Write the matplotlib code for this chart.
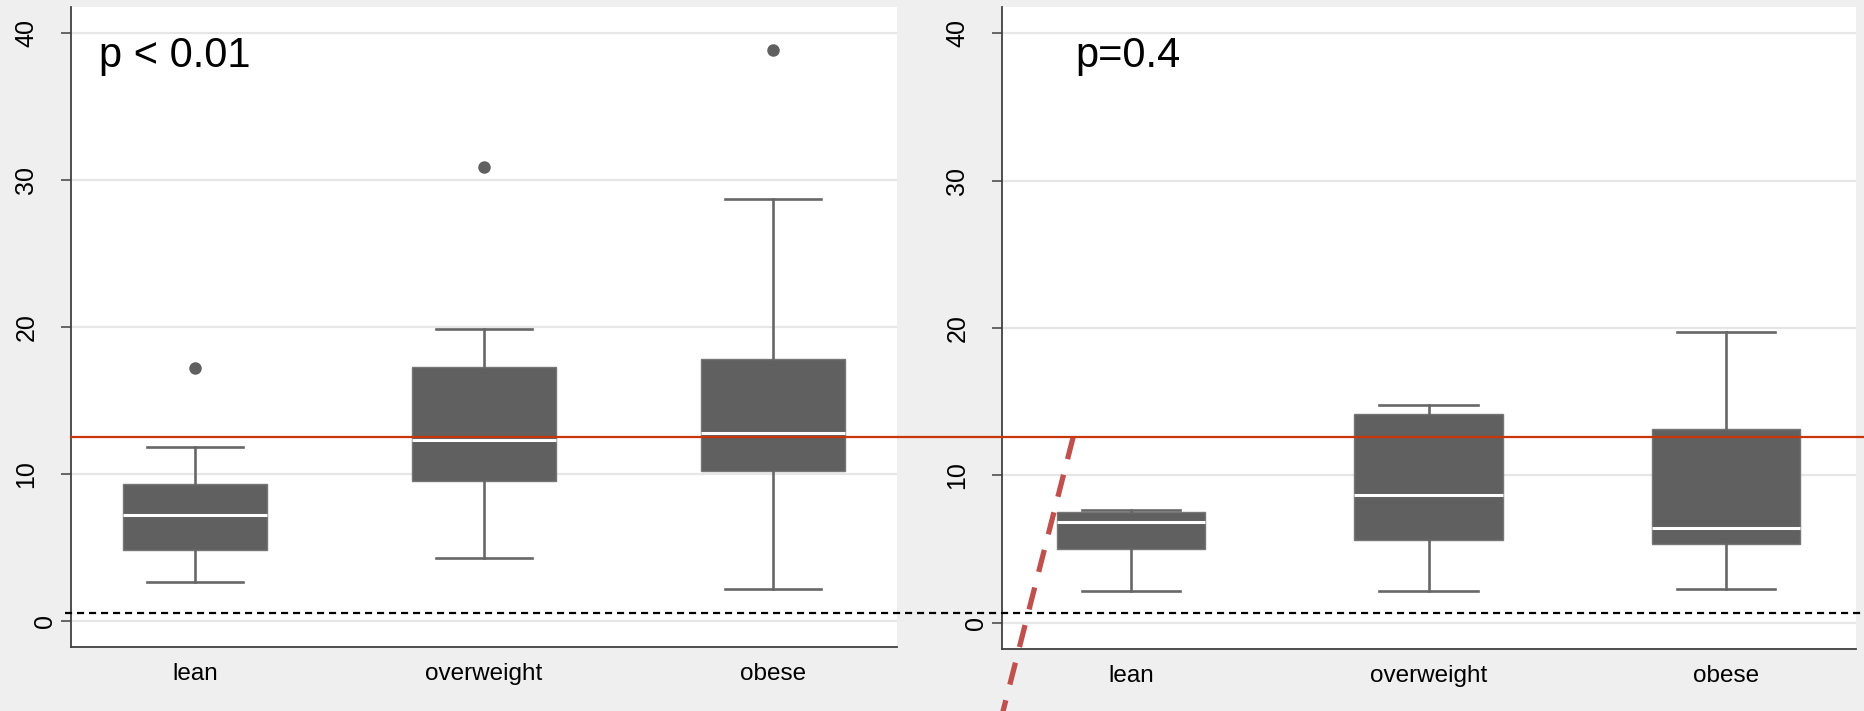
import numpy as np
import matplotlib
matplotlib.use('Agg')
import matplotlib.pyplot as plt
from matplotlib.lines import Line2D
from matplotlib.transforms import blended_transform_factory, ScaledTranslation

plt.rcParams['font.family'] = ['Liberation Sans', 'DejaVu Sans']

categories = ['lean', 'overweight', 'obese']
yticks = [0, 10, 20, 30, 40]

# left panel (p < 0.01): whisker low, q1, median, q3, whisker high, outliers
left_low = [2.68, 4.28, 2.16]
left_q1 = [4.83, 9.51, 10.18]
left_med = [7.19, 12.31, 12.79]
left_q3 = [9.32, 17.30, 17.86]
left_high = [11.86, 19.90, 28.70]
left_out = [[17.23], [30.92], [38.83]]

# right panel (p=0.4)
right_low = [2.14, 2.14, 2.33]
right_q1 = [4.99, 5.60, 5.35]
right_med = [6.82, 8.67, 6.43]
right_q3 = [7.52, 14.18, 13.16]
right_high = [7.63, 14.81, 19.76]
right_out = [[], [], []]

# reference lines across both panels
ref_red = 12.55
ref_dash = 0.57
# slanted marker line (right panel data coords), runs off the bottom edge
slash_x = [0.805, 0.550]
slash_y = [12.6, -7.5]

BOX = '#606060'
BG = '#efefef'


def make_stats(low, q1, med, q3, high, out):
    return [dict(whislo=a, q1=b, med=c, q3=d, whishi=e, fliers=f)
            for a, b, c, d, e, f in zip(low, q1, med, q3, high, out)]


def draw_panel(ax, stats, label, label_x, xlim):
    ax.set_facecolor('white')
    for t in yticks:
        ax.axhline(t, color='#e6e6e6', lw=1.6, zorder=0)
    ax.bxp(stats, positions=[1, 2, 3], widths=0.5, capwidths=0.33,
           patch_artist=True, showfliers=True,
           boxprops=dict(facecolor=BOX, edgecolor='#767676', linewidth=1),
           medianprops=dict(color='white', linewidth=2.2),
           whiskerprops=dict(color='#676767', linewidth=1.9),
           capprops=dict(color='#676767', linewidth=1.9),
           flierprops=dict(marker='o', markersize=9, markerfacecolor=BOX,
                           markeredgecolor='none'))
    ax.set_xlim(*xlim)
    ax.set_ylim(-1.77, 41.8)
    for s in ['top', 'right']:
        ax.spines[s].set_visible(False)
    for s in ['left', 'bottom']:
        ax.spines[s].set_color('#404040')
        ax.spines[s].set_linewidth(1.3)
    ax.set_xticks([1, 2, 3], categories)
    ax.set_yticks(yticks)
    ax.set_yticklabels([str(t) for t in yticks], rotation=90, va='center')
    ax.tick_params(axis='y', length=7.2, width=1.1, color='#404040', pad=16.3,
                   labelsize=18)
    ax.tick_params(axis='x', length=0, pad=11.5, labelsize=17.5)
    # the single-digit label sits closer to the axis
    for tick, t in zip(ax.yaxis.get_major_ticks(), yticks):
        if t == 0:
            tick.label1.set_transform(tick.label1.get_transform() +
                                      ScaledTranslation(0.19, 0, fig.dpi_scale_trans))
    ax.text(label_x, 0.906, label, transform=ax.transAxes, fontsize=30,
            va='baseline', ha='left')


fig = plt.figure(figsize=(18.64, 7.11), dpi=100, facecolor=BG)
ax1 = fig.add_axes([0.03809, 0.0900, 0.4431, 0.9006])
ax2 = fig.add_axes([0.5376, 0.0872, 0.4582, 0.9034])

draw_panel(ax1, make_stats(left_low, left_q1, left_med, left_q3, left_high, left_out),
           'p < 0.01', 0.0339, (0.571, 3.429))
draw_panel(ax2, make_stats(right_low, right_q1, right_med, right_q3, right_high, right_out),
           'p=0.4', 0.0855, (0.566, 3.438))

# slanted dashed line
ax2.plot(slash_x, slash_y, ls=(0, (4.3, 3.05)), color='#c0504d', lw=3.8,
         clip_on=False, zorder=5, solid_capstyle='butt', dash_capstyle='butt')

# lines spanning both panels
trans = blended_transform_factory(fig.transFigure, ax1.transData)
x0 = ax1.get_position().x0
fig.add_artist(Line2D([x0, 1.0], [ref_red, ref_red], transform=trans,
                      color='#c8370a', lw=1.6, zorder=3))
fig.add_artist(Line2D([x0 - 0.003, 1.0], [ref_dash, ref_dash], transform=trans,
                      color='black', lw=1.6, ls=(0, (3.2, 2.2)), zorder=3))

fig.savefig('out.png', dpi=100, facecolor=BG)
